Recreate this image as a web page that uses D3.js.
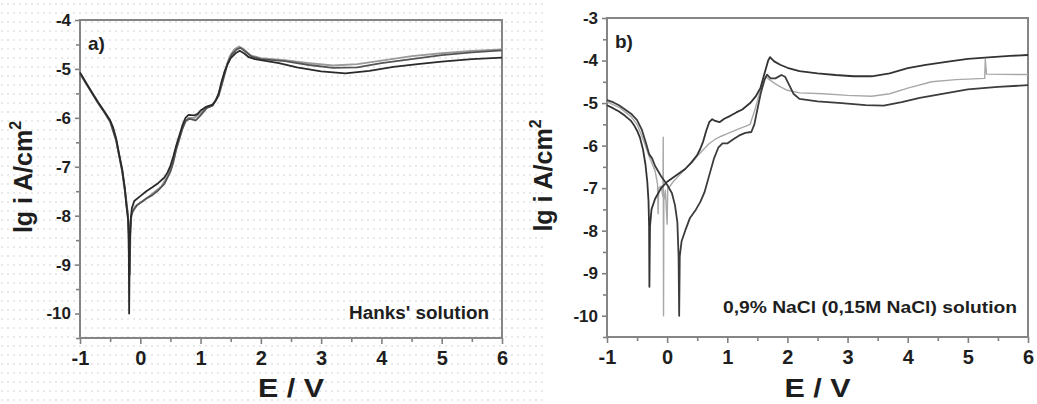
<!DOCTYPE html>
<html>
<head>
<meta charset="utf-8">
<script src="https://cdn.jsdelivr.net/npm/d3@7"></script>
<style>
  body { margin: 0; background: #fff; }
  svg text { font-family: "Liberation Sans", Arial, sans-serif; font-weight: bold; fill: #1e1e1e; }
</style>
</head>
<body>
<svg id="chart" width="1037" height="404"></svg>
<script>
// ---- tick values ----
const xTicks = [-1, 0, 1, 2, 3, 4, 5, 6];
const xMinorTicks = [-0.5, 0.5, 1.5, 2.5, 3.5, 4.5, 5.5];
const yTicksA = [-10, -9, -8, -7, -6, -5, -4];
const yMinorA = [-10.5, -9.5, -8.5, -7.5, -6.5, -5.5, -4.5];
const yTicksB = [-10, -9, -8, -7, -6, -5, -4, -3];
const yMinorB = [-10.5, -9.5, -8.5, -7.5, -6.5, -5.5, -4.5, -3.5];

// ---- panel a: Hanks' solution, [E (V), lg i] ----
const hanksDark = [[-1,-5.07],[-0.9,-5.28],[-0.8,-5.48],[-0.7,-5.68],[-0.6,-5.86],[-0.5,-6.05],[-0.45,-6.2],[-0.4,-6.42],[-0.35,-6.75],[-0.3,-7.05],[-0.26,-7.4],[-0.23,-7.8],[-0.2,-8.1],[-0.19,-8.8],[-0.185,-10],[-0.175,-8.6],[-0.16,-8.1],[-0.14,-7.85],[-0.1,-7.7],[0,-7.6],[0.1,-7.5],[0.2,-7.42],[0.3,-7.33],[0.4,-7.22],[0.45,-7.12],[0.5,-6.98],[0.55,-6.78],[0.6,-6.55],[0.65,-6.35],[0.7,-6.15],[0.75,-6.0],[0.8,-5.94],[0.9,-5.95],[0.95,-5.92],[1.0,-5.85],[1.1,-5.77],[1.2,-5.73],[1.25,-5.65],[1.3,-5.5],[1.35,-5.25],[1.4,-5.05],[1.45,-4.9],[1.5,-4.78],[1.58,-4.68],[1.65,-4.63],[1.72,-4.68],[1.8,-4.76],[1.9,-4.8],[2.0,-4.82],[2.3,-4.88],[2.6,-4.97],[3.0,-5.05],[3.4,-5.09],[3.8,-5.04],[4.2,-4.96],[4.6,-4.9],[5.0,-4.85],[5.5,-4.8],[6.0,-4.77]];
const hanksMid = [[-1,-5.1],[-0.9,-5.3],[-0.8,-5.5],[-0.7,-5.7],[-0.6,-5.88],[-0.5,-6.08],[-0.4,-6.47],[-0.3,-7.1],[-0.25,-7.55],[-0.21,-7.95],[-0.19,-8.4],[-0.175,-9.2],[-0.165,-8.4],[-0.15,-8.0],[-0.12,-7.9],[-0.05,-7.78],[0.1,-7.65],[0.2,-7.58],[0.3,-7.48],[0.4,-7.35],[0.5,-7.1],[0.55,-6.9],[0.6,-6.62],[0.7,-6.22],[0.76,-6.05],[0.82,-6.02],[0.92,-6.05],[1.0,-5.95],[1.1,-5.8],[1.2,-5.75],[1.3,-5.55],[1.38,-5.2],[1.45,-4.88],[1.52,-4.7],[1.6,-4.6],[1.66,-4.57],[1.74,-4.64],[1.85,-4.75],[2.0,-4.8],[2.4,-4.84],[2.8,-4.92],[3.2,-4.98],[3.6,-4.97],[4.0,-4.88],[4.5,-4.8],[5.0,-4.72],[5.5,-4.66],[6.0,-4.62]];
const hanksLight = [[-1,-5.08],[-0.8,-5.49],[-0.6,-5.87],[-0.5,-6.07],[-0.4,-6.45],[-0.3,-7.08],[-0.25,-7.5],[-0.21,-7.9],[-0.19,-8.3],[-0.18,-8.8],[-0.165,-8.2],[-0.14,-7.95],[-0.08,-7.8],[0.05,-7.7],[0.2,-7.55],[0.35,-7.4],[0.45,-7.2],[0.55,-6.85],[0.65,-6.42],[0.73,-6.1],[0.8,-6.0],[0.9,-6.0],[1.0,-5.9],[1.1,-5.79],[1.2,-5.74],[1.3,-5.52],[1.4,-5.05],[1.48,-4.75],[1.56,-4.6],[1.64,-4.54],[1.72,-4.6],[1.82,-4.72],[2.0,-4.78],[2.4,-4.82],[2.8,-4.88],[3.2,-4.93],[3.6,-4.9],[4.0,-4.83],[4.5,-4.74],[5.0,-4.68],[5.5,-4.63],[6.0,-4.6]];

// ---- panel b: 0,9% NaCl solution ----
const naclTop = [[-1,-5.05],[-0.9,-5.12],[-0.8,-5.2],[-0.7,-5.3],[-0.6,-5.42],[-0.55,-5.52],[-0.5,-5.65],[-0.45,-5.82],[-0.4,-6.1],[-0.36,-6.45],[-0.33,-6.85],[-0.31,-7.3],[-0.3,-7.9],[-0.295,-9.32],[-0.285,-7.9],[-0.26,-7.5],[-0.2,-7.25],[-0.1,-7.0],[0,-6.85],[0.1,-6.75],[0.2,-6.65],[0.3,-6.55],[0.4,-6.4],[0.5,-6.22],[0.55,-6.08],[0.6,-5.9],[0.65,-5.65],[0.7,-5.45],[0.75,-5.38],[0.8,-5.42],[0.87,-5.45],[0.95,-5.37],[1.05,-5.3],[1.15,-5.22],[1.25,-5.15],[1.38,-5.0],[1.47,-4.85],[1.55,-4.65],[1.62,-4.3],[1.68,-4.0],[1.71,-3.92],[1.78,-4.02],[1.88,-4.1],[2.0,-4.17],[2.2,-4.25],[2.5,-4.3],[2.8,-4.34],[3.1,-4.37],[3.4,-4.37],[3.7,-4.3],[4.0,-4.18],[4.3,-4.1],[4.7,-4.02],[5.0,-3.96],[5.4,-3.92],[5.7,-3.89],[6.0,-3.87]];
const naclBottom = [[-1,-4.93],[-0.9,-4.98],[-0.8,-5.05],[-0.7,-5.15],[-0.6,-5.25],[-0.5,-5.4],[-0.42,-5.63],[-0.35,-5.95],[-0.3,-6.2],[-0.25,-6.3],[-0.2,-6.48],[-0.1,-6.72],[0,-6.92],[0.08,-7.12],[0.13,-7.4],[0.17,-7.8],[0.19,-8.6],[0.2,-10],[0.21,-8.6],[0.24,-8.25],[0.3,-8.0],[0.38,-7.7],[0.48,-7.5],[0.55,-7.33],[0.62,-7.1],[0.7,-6.7],[0.78,-6.3],[0.85,-6.05],[0.92,-5.95],[1.0,-5.95],[1.1,-5.85],[1.2,-5.76],[1.3,-5.7],[1.4,-5.68],[1.45,-5.5],[1.5,-5.15],[1.56,-4.75],[1.62,-4.45],[1.66,-4.33],[1.72,-4.42],[1.8,-4.42],[1.9,-4.34],[1.96,-4.38],[2.02,-4.55],[2.1,-4.78],[2.2,-4.9],[2.5,-4.96],[2.9,-5.0],[3.3,-5.05],[3.6,-5.06],[3.9,-4.98],[4.2,-4.88],[4.6,-4.78],[5.0,-4.68],[5.5,-4.62],[6.0,-4.58]];
const naclGray = [[-1,-4.97],[-0.8,-5.1],[-0.6,-5.32],[-0.5,-5.5],[-0.4,-5.85],[-0.3,-6.25],[-0.2,-6.6],[-0.16,-6.9],[-0.15,-7.6],[-0.14,-7.0],[-0.1,-6.95],[-0.07,-7.2],[-0.065,-5.8],[-0.06,-10],[-0.055,-7.3],[-0.03,-7.05],[0,-7.85],[0.01,-7.0],[0.05,-6.95],[0.1,-6.85],[0.2,-6.7],[0.3,-6.55],[0.4,-6.42],[0.5,-6.25],[0.6,-6.1],[0.7,-5.95],[0.8,-5.85],[0.9,-5.78],[1.0,-5.72],[1.1,-5.66],[1.2,-5.6],[1.3,-5.55],[1.38,-5.5],[1.45,-5.2],[1.52,-4.85],[1.58,-4.55],[1.64,-4.38],[1.7,-4.45],[1.8,-4.55],[1.9,-4.63],[2.0,-4.7],[2.2,-4.76],[2.6,-4.78],[3.0,-4.82],[3.4,-4.84],[3.7,-4.78],[4.0,-4.65],[4.4,-4.5],[4.8,-4.45],[5.28,-4.42],[5.29,-3.97],[5.31,-4.32],[6.0,-4.33]];

const svg = d3.select('#chart');

// faint dotted paper texture behind panel a
const defs = svg.append('defs');
const pat = defs.append('pattern').attr('id', 'dots')
  .attr('width', 6).attr('height', 9).attr('patternUnits', 'userSpaceOnUse');
pat.append('rect').attr('x', 1).attr('y', 3).attr('width', 2).attr('height', 2).attr('fill', '#e9e9e9');
svg.append('rect').attr('x', 0).attr('y', 0).attr('width', 545).attr('height', 404).attr('fill', 'url(#dots)');

function drawPanel(p) {
  const x = d3.scaleLinear().domain([-1, 6]).range([p.left, p.right]);
  const y = d3.scaleLinear().domain([-10.5, p.yMax]).range([p.bottom, p.top]);
  const g = svg.append('g');

  // minor ticks
  g.append('g').attr('transform', `translate(0,${p.bottom})`)
    .call(d3.axisBottom(x).tickValues(xMinorTicks).tickSize(4).tickFormat(''));
  g.append('g').attr('transform', `translate(${p.left},0)`)
    .call(d3.axisLeft(y).tickValues(p.yMinor).tickSize(4).tickFormat(''));

  // major ticks + labels (plain hyphen minus like the original)
  const xa = g.append('g').attr('transform', `translate(0,${p.bottom})`)
    .call(d3.axisBottom(x).tickValues(xTicks).tickSize(6).tickPadding(7).tickFormat(d => String(d)));
  xa.selectAll('text').attr('font-size', 20).attr('fill', '#1e1e1e');
  const ya = g.append('g').attr('transform', `translate(${p.left},0)`)
    .call(d3.axisLeft(y).tickValues(p.yTicks).tickSize(5).tickPadding(4).tickFormat(d => String(d)));
  ya.selectAll('text').attr('font-size', 17).attr('fill', '#1e1e1e');

  g.selectAll('.domain').remove();
  g.selectAll('.tick line').attr('stroke', '#808080').attr('stroke-width', 1.6);

  // frame
  g.append('rect').attr('x', p.left).attr('y', p.top)
    .attr('width', p.right - p.left).attr('height', p.bottom - p.top)
    .attr('fill', 'none').attr('stroke', '#858585').attr('stroke-width', 2);

  const line = d3.line().x(d => x(d[0])).y(d => y(d[1]));
  p.curves.forEach(c => {
    g.append('path').datum(c.data).attr('d', line)
      .attr('fill', 'none').attr('stroke', c.color).attr('stroke-width', c.width)
      .attr('stroke-linejoin', 'round');
  });

  // labels
  g.append('text').attr('x', p.left + 8).attr('y', p.top + 30).attr('font-size', 19).text(p.tag);
  g.append('text').attr('x', p.noteX).attr('y', p.noteY).attr('font-size', p.noteSize)
    .attr('textLength', p.noteLen).attr('lengthAdjust', 'spacingAndGlyphs').text(p.note);

  g.append('text').attr('x', (p.left + p.right) / 2).attr('y', 397).attr('text-anchor', 'middle')
    .attr('font-size', 26).attr('textLength', 66).attr('lengthAdjust', 'spacingAndGlyphs').text('E / V');

  const yt = g.append('text').attr('transform', `translate(${p.titleX},${(p.top + p.bottom) / 2 - 2}) rotate(-90)`)
    .attr('text-anchor', 'middle').attr('font-size', 25);
  yt.append('tspan').text('lg i A/cm');
  yt.append('tspan').attr('font-size', 16).attr('dy', -11).text('2');
}

drawPanel({
  left: 80, right: 502, top: 20, bottom: 338, yMax: -4,
  yTicks: yTicksA, yMinor: yMinorA, titleX: 32,
  tag: 'a)', note: "Hanks' solution", noteX: 349, noteY: 319, noteSize: 18, noteLen: 140,
  curves: [
    { data: hanksLight, color: '#9a9a9a', width: 1.8 },
    { data: hanksMid, color: '#555', width: 1.8 },
    { data: hanksDark, color: '#2a2a2a', width: 1.8 }
  ]
});

drawPanel({
  left: 607, right: 1028, top: 18, bottom: 337, yMax: -3,
  yTicks: yTicksB, yMinor: yMinorB, titleX: 552,
  tag: 'b)', note: '0,9% NaCl (0,15M NaCl) solution', noteX: 723, noteY: 313, noteSize: 16, noteLen: 294,
  curves: [
    { data: naclGray, color: '#a8a8a8', width: 1.4 },
    { data: naclBottom, color: '#3c3c3c', width: 1.8 },
    { data: naclTop, color: '#333', width: 1.8 }
  ]
});
</script>
</body>
</html>
